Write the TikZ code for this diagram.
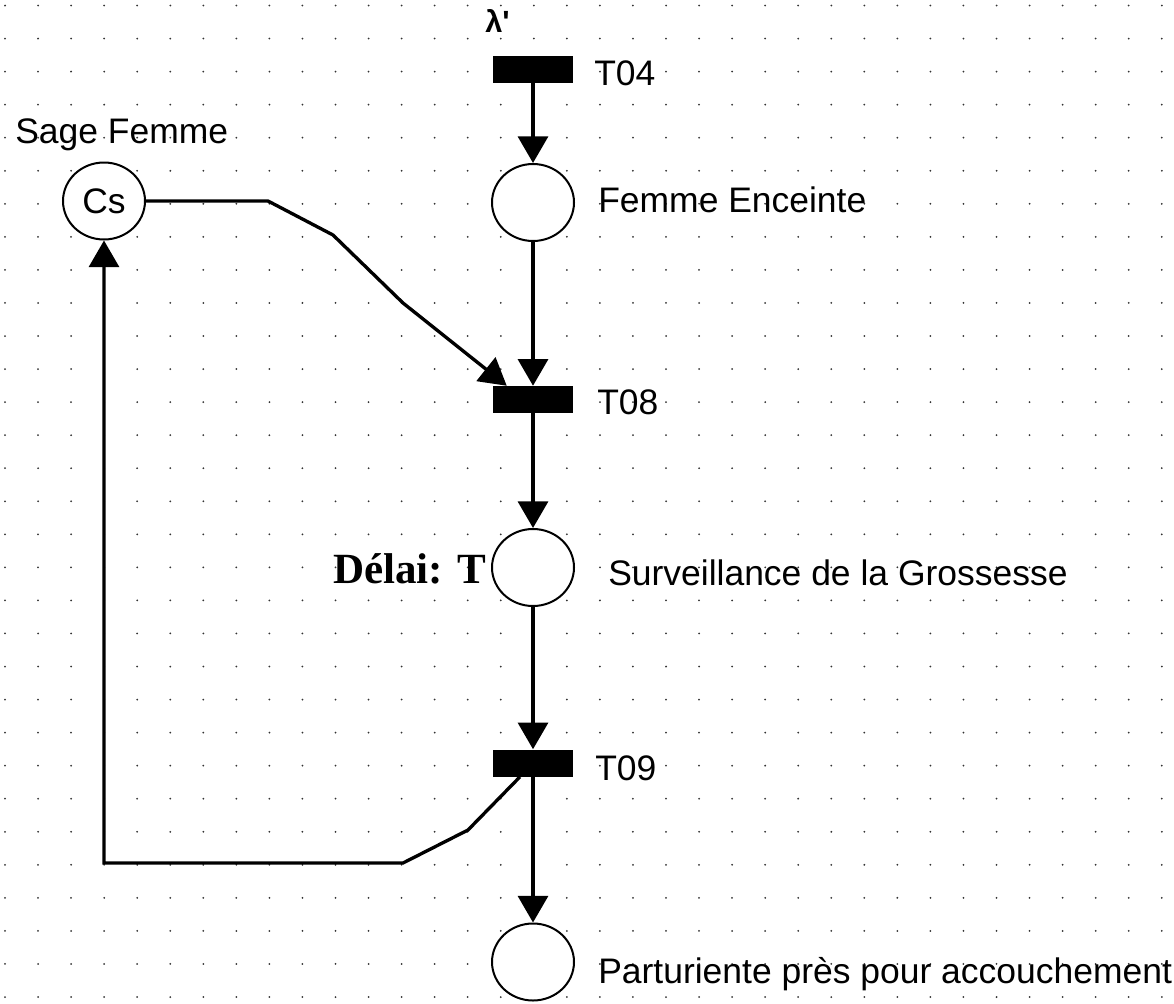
\documentclass[tikz,border=0pt]{standalone}
\usepackage{fontspec}
\setmainfont{Liberation Sans}
\newfontfamily\serifbf{Liberation Serif}
\newfontfamily\plainsans{Liberation Sans}[Ligatures=ResetAll]
\usetikzlibrary{arrows.meta,shapes.geometric}
\begin{document}
\begin{tikzpicture}
[x=0.75pt,y=-0.75pt,
 place/.style={ellipse,draw=black,line width=1.5pt,fill=white,
   minimum width=61.5pt,minimum height=57.75pt,inner sep=0pt,
   font=\fontsize{26.6}{30}\selectfont},
 trans/.style={rectangle,fill=black,minimum width=60pt,
   minimum height=20.25pt,inner sep=0pt},
 txt/.style={anchor=base west,inner sep=0pt,font=\fontsize{26.6}{30}\selectfont},
 flow/.style={line width=2.5pt,-{Triangle[length=20pt,width=22.5pt]}}]
\useasboundingbox (0,0) rectangle (1174,1003);
\foreach \i in {0,...,35}
  \foreach \j in {0,...,30}
    \fill[black!80] (5+33.05*\i,5.5+33.05*\j) circle (0.75pt);
\node [trans] (t04) at (533,69.5) {};
\node [place] (femme) at (533,202.5) {};
\node [trans] (t08) at (533,399.5) {};
\node [place] (surv) at (533,567.5) {};
\node [trans] (t09) at (533,763) {};
\node [place] (part) at (533,962) {};
\node [place] (cs) at (104,201) {Cs};
\node [txt,font=\fontsize{23}{26}\plainsans\bfseries] (lambda) at (485,32) {λ'};
\node [txt] (lt04) at (594,85) {T04};
\node [txt] (lsage) at (15,143) {Sage Femme};
\node [txt] (lfemme) at (598,212) {Femme Enceinte};
\node [txt] (lt08) at (597,414) {T08};
\node [txt,font=\fontsize{32.3}{36}\serifbf\bfseries] (ldelai) at (333,583) {Délai: T};
\node [txt] (lsurv) at (608,585) {Surveillance de la Grossesse};
\node [txt] (lt09) at (595,780) {T09};
\node [txt] (lpart) at (598,983) {Parturiente près pour accouchement};
\draw [flow] (t04.south) -- (femme.north);
\draw [flow] (femme.south) -- (t08.north);
\draw [flow] (t08.south) -- (surv.north);
\draw [flow] (surv.south) -- (t09.north);
\draw [flow] (t09.south) -- (part.north);
\draw [flow] (cs.east) -- (268,201) -- (333,235) -- (403,303)
  -- ([xshift=10.5pt]t08.north west);
\draw [flow] ([xshift=-9.75pt]t09.south) -- (468,830) -- (403,863)
  -| (cs.south);
\end{tikzpicture}
\end{document}
